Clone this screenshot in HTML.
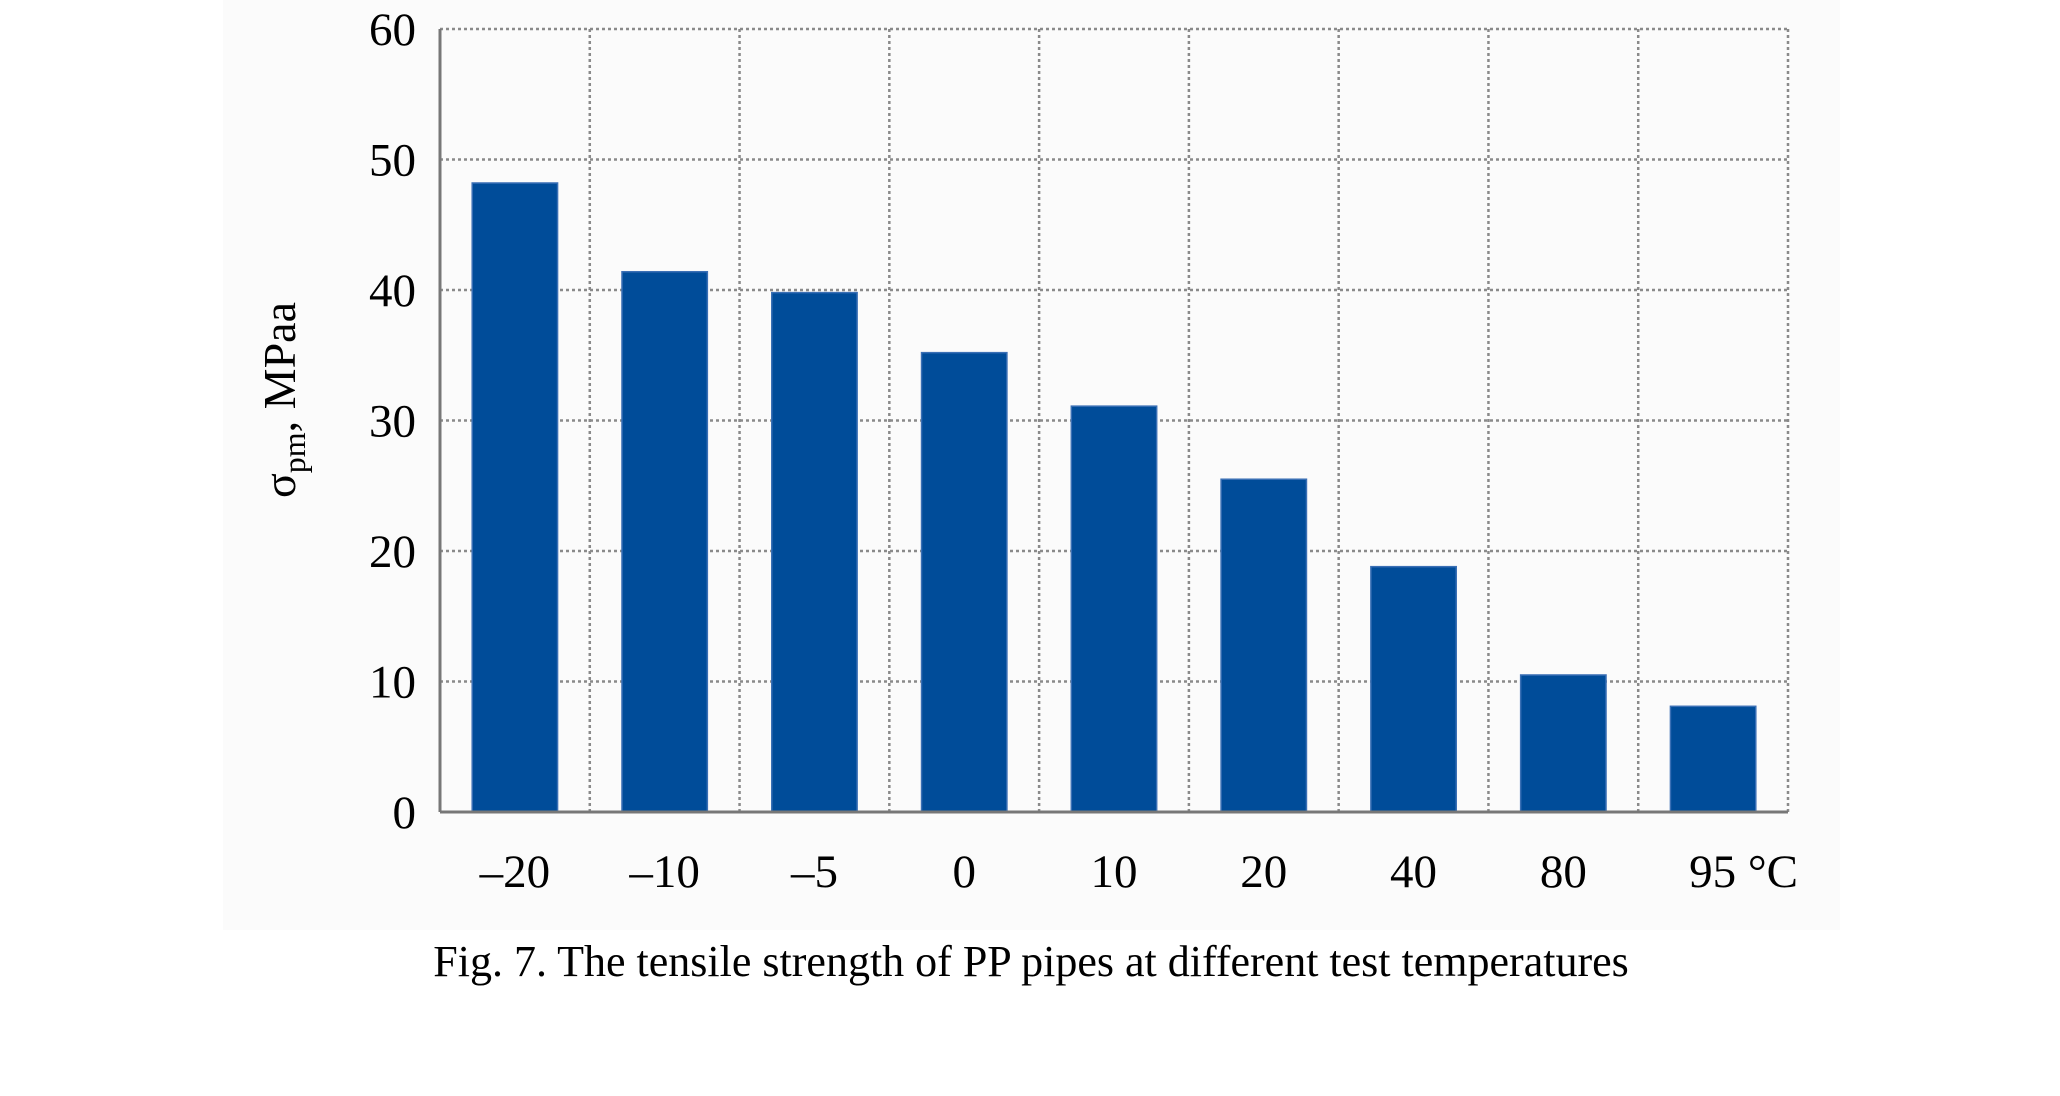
<!DOCTYPE html>
<html><head><meta charset="utf-8"><style>
body{margin:0;background:#fff;}
svg{display:block;font-family:"Liberation Serif",serif;}
</style></head><body>
<svg width="2060" height="1096" viewBox="0 0 2060 1096">
<rect x="223" y="0" width="1617" height="930" fill="#fbfbfb"/>
<g id="grid"></g>
<g id="bars"></g>
<g id="axes"></g>
<text x="295" y="400" font-size="46" text-anchor="middle" transform="rotate(-90 295 400)">σ<tspan font-size="32" dy="10">pm</tspan><tspan dy="-10">, MPaa</tspan></text>
<text x="1031" y="976" font-size="44" text-anchor="middle">Fig. 7. The tensile strength of PP pipes at different test temperatures</text>
</svg>
<script>
const categories=["–20","–10","–5","0","10","20","40","80","95 °C"];
const values=[48.2,41.4,39.8,35.2,31.1,25.5,18.8,10.5,8.1];
const yTicks=[0,10,20,30,40,50,60];
const L=440,R=1788,T=29,B=812,yMax=60;
const NS="http://www.w3.org/2000/svg";
const band=(R-L)/categories.length;
const xC=i=>L+band*(i+0.5);
const y=v=>B-(v/yMax)*(B-T);
function mk(tag,attrs,parent,text){const e=document.createElementNS(NS,tag);for(const k in attrs)e.setAttribute(k,attrs[k]);if(text!==undefined)e.textContent=text;parent.appendChild(e);return e;}
const grid=document.getElementById('grid'),bars=document.getElementById('bars'),axes=document.getElementById('axes'),svg=document.querySelector('svg');
yTicks.forEach(t=>{
  if(t>0){const g=mk('line',{x1:L,x2:R,y1:y(t),y2:y(t),stroke:'#8a8a8a','stroke-width':2.5,'stroke-dasharray':'3 3'},grid);
  
  }
  const tx=mk('text',{x:416,y:y(t)+16,'font-size':47,'text-anchor':'end'},svg,String(t));
  
  
});
for(let i=1;i<=categories.length;i++){
  const gx=L+band*i;
  const g=mk('line',{x1:gx,x2:gx,y1:T,y2:B,stroke:'#8a8a8a','stroke-width':2.5,'stroke-dasharray':'3 3'},grid);
  
  
}
categories.forEach((c,i)=>{
  const w=band*0.57;
  const r=mk('rect',{x:xC(i)-w/2,y:y(values[i]),width:w,height:B-y(values[i]),fill:'#004c99',stroke:'#3a6fb5','stroke-width':1.5},bars);
  
  
  const last=i===categories.length-1;
  const tx=mk('text',{x:last?xC(i)-24:xC(i),y:887,'font-size':47,'text-anchor':last?'start':'middle'},svg,c);
  
  
});
const ya=mk('line',{x1:L,x2:L,y1:T,y2:B,stroke:'#777','stroke-width':3},axes);


const xa=mk('line',{x1:L,x2:R,y1:B,y2:B,stroke:'#777','stroke-width':3},axes);


</script>
</body></html>
